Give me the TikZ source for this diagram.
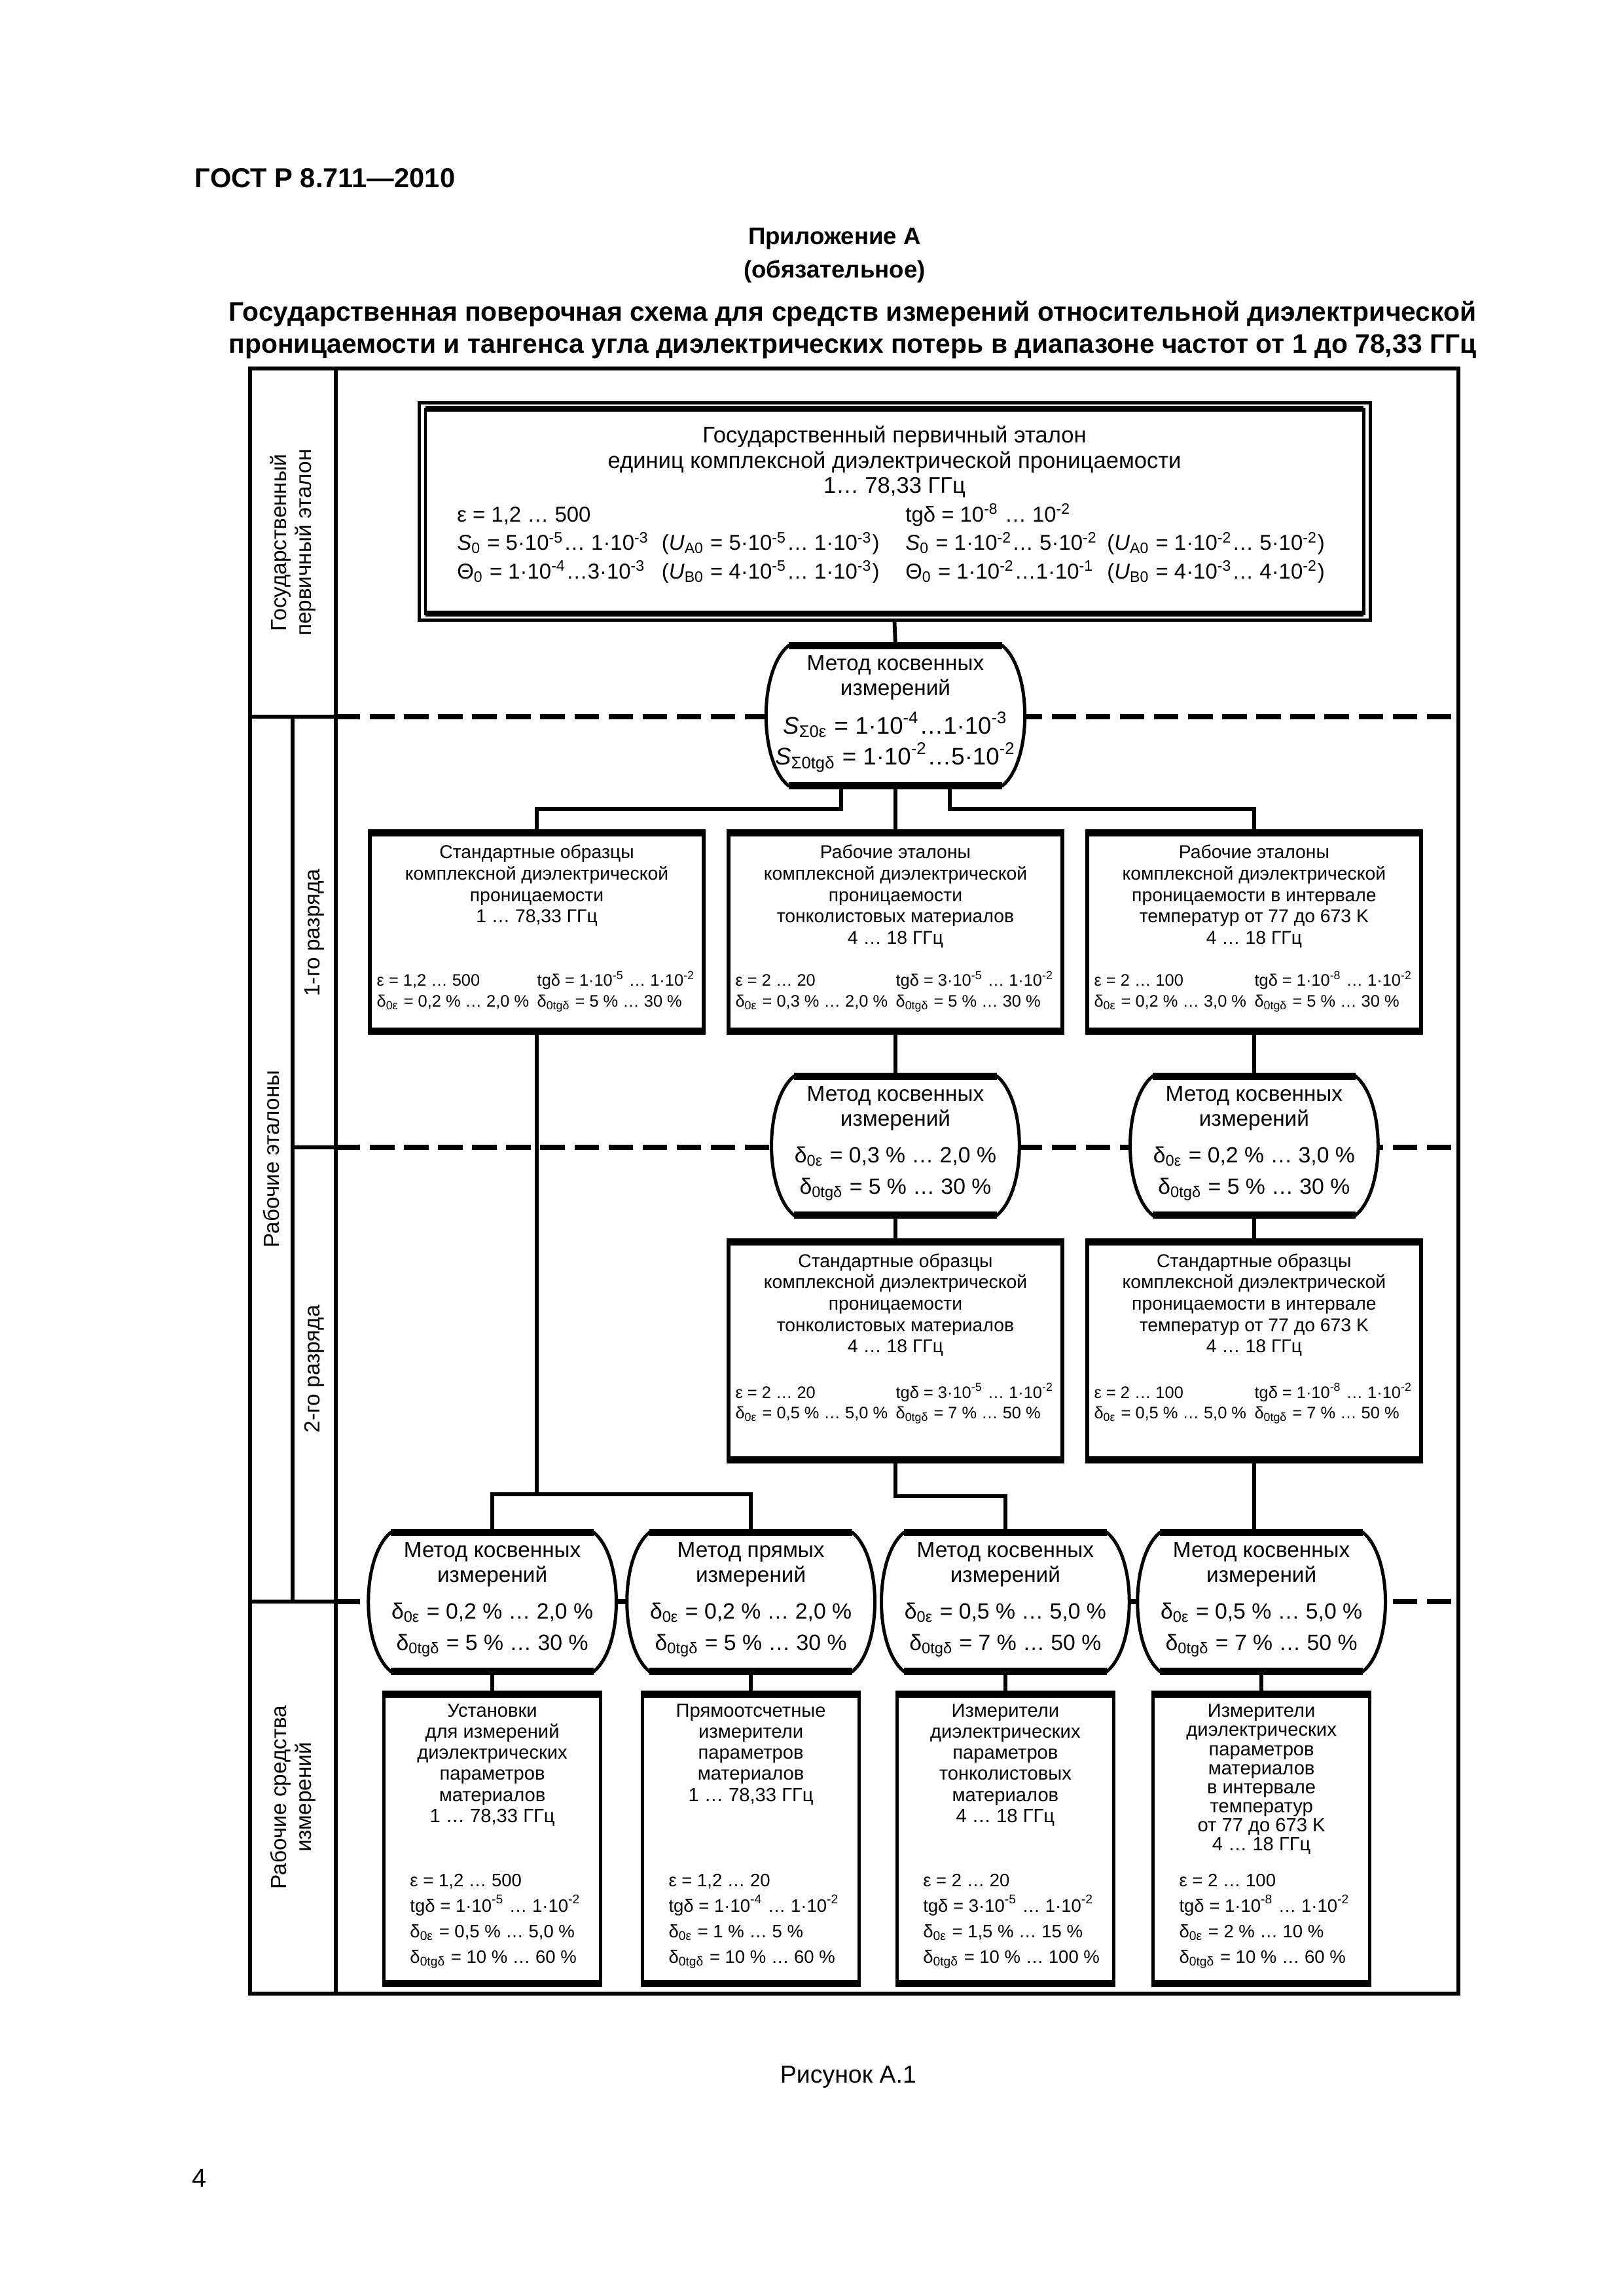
\documentclass[tikz,border=0pt]{standalone}
\usepackage{fontspec}
\setmainfont{Liberation Sans}
\usetikzlibrary{calc}

\newcommand{\spx}[1]{\textsuperscript{#1}}
\newcommand{\sbx}[1]{\textsubscript{#1}}
% outline of a method node
\newcommand{\barrel}[1]{%
  \filldraw[fill=white,line width=1.2pt] (#1.north west)
    .. controls ($(#1.north west)+(-11,9)$) and ($(#1.south west)+(-11,-9)$) .. (#1.south west)
    -- (#1.south east)
    .. controls ($(#1.south east)+(11,-9)$) and ($(#1.north east)+(11,9)$) .. (#1.north east)
    -- cycle;
  \draw[line width=2.6pt] (#1.north west) -- (#1.north east) (#1.south west) -- (#1.south east);}
% heavy top and bottom of a box
\newcommand{\bars}[1]{%
  \draw[line width=2.6pt] (#1.north west) -- (#1.north east) (#1.south west) -- (#1.south east);}

\begin{document}
\begin{tikzpicture}[x=1pt,y=-1pt,
  frm/.style={line width=1.5pt},
  con/.style={line width=1.4pt},
  sepl/.style={line width=2pt,dash pattern=on 9pt off 3.5pt},
  stdbox/.style={draw,line width=1.3pt,inner sep=0pt,minimum width=122.4pt,minimum height=71.5pt},
  sibox/.style={draw,line width=1.3pt,inner sep=0pt,minimum width=79.4pt,minimum height=104.9pt},
  meth/.style={inner sep=0pt,minimum width=74pt,minimum height=50.6pt},
  btxt/.style={font=\fontsize{6.8}{7.85}\selectfont,align=center,inner sep=0pt},
  bpar/.style={font=\fontsize{6.1}{7.5}\selectfont,inner sep=0pt},
  stxt/.style={font=\fontsize{7}{7.7}\selectfont,align=center,inner sep=0pt},
  spar/.style={font=\fontsize{6.6}{9.4}\selectfont,align=left,inner sep=0pt},
  mtxt/.style={font=\fontsize{8}{9}\selectfont,align=center,inner sep=0pt},
  mval/.style={font=\fontsize{8.1}{11.4}\selectfont,align=center,inner sep=0pt},
  lbl/.style={font=\fontsize{8}{9.2}\selectfont,align=center,rotate=90,inner sep=0pt},
  hdr/.style={font=\bfseries\fontsize{9.8}{11.7}\selectfont,align=center,inner sep=0pt}]

\useasboundingbox (0,0) rectangle (595.3,841.9);
\fill[white] (0,0) rectangle (595.3,841.9);

% page heading
\node[hdr,anchor=west,font=\bfseries\fontsize{10}{12}\selectfont] (gost) at (71.3,65.3) {ГОСТ Р 8.711—2010};
\node[hdr,font=\bfseries\fontsize{8.8}{12.2}\selectfont] (app) at (306,93.7) {Приложение А\\(обязательное)};
\node[hdr] (ttl) at (312.6,120.9) {Государственная поверочная схема для средств измерений относительной диэлектрической\\проницаемости и тангенса угла диэлектрических потерь в диапазоне частот от 1 до 78,33 ГГц};

% frame
\draw[frm] (91.7,135.1) rectangle (534.7,731.0);
\draw[frm] (123.1,135.1) -- (123.1,731.0);
\draw[frm] (107.3,262.8) -- (107.3,587.3);
\draw[frm] (91.7,262.8) -- (123.1,262.8);
\draw[frm] (107.3,420.7) -- (123.1,420.7);
\draw[frm] (91.7,587.3) -- (123.1,587.3);
\foreach \y in {262.8,420.7,587.3}
  \draw[sepl] (123.1,\y) -- (534.7,\y);

\node[lbl] (lgpe) at (107.4,199) {Государственный\\первичный эталон};
\node[lbl] (lre) at (99.5,425) {Рабочие эталоны};
\node[lbl] (lr1) at (115.2,342) {1-го разряда};
\node[lbl] (lr2) at (115.2,502) {2-го разряда};
\node[lbl] (lrsi) at (107.4,659) {Рабочие средства\\измерений};

% primary standard
\node[draw,line width=1.2pt,inner sep=0pt,minimum width=348.7pt,minimum height=79.7pt] (gpe) at (327.95,187.45) {};
\draw[line width=1pt] ($(gpe.north west)+(2.9,2.9)$) rectangle ($(gpe.south east)+(-2.9,-2.9)$);
\draw[line width=2pt] ($(gpe.north west)+(2.9,2.9)$) -- ($(gpe.north east)+(-2.9,2.9)$)
  ($(gpe.south west)+(2.9,-2.9)$) -- ($(gpe.south east)+(-2.9,-2.9)$);

% boxes
\node[stdbox] (g1a) at (196.8,341.75) {}; \bars{g1a}
\node[stdbox] (g1b) at (328.3,341.75) {}; \bars{g1b}
\node[stdbox] (g1c) at (459.8,341.75) {}; \bars{g1c}
\node[stdbox,minimum height=78.7pt] (g2b) at (328.3,495.35) {}; \bars{g2b}
\node[stdbox,minimum height=78.7pt] (g2c) at (459.8,495.35) {}; \bars{g2c}
\node[sibox] (u1) at (180.5,674.25) {}; \bars{u1}
\node[sibox] (u2) at (275.3,674.25) {}; \bars{u2}
\node[sibox] (u3) at (368.6,674.25) {}; \bars{u3}
\node[sibox] (u4) at (462.5,674.25) {}; \bars{u4}

% methods
\node[meth,minimum width=78pt,minimum height=51pt] (m1) at (328.3,262.45) {}; \barrel{m1}
\node[meth] (m2) at (328.3,420.1) {}; \barrel{m2}
\node[meth] (m3) at (459.8,420.1) {}; \barrel{m3}
\node[meth] (m4) at (180.5,587.4) {}; \barrel{m4}
\node[meth] (m5) at (275.3,587.4) {}; \barrel{m5}
\node[meth] (m6) at (368.6,587.4) {}; \barrel{m6}
\node[meth] (m7) at (462.5,587.4) {}; \barrel{m7}

% connectors
\draw[con] (gpe.south) -- (m1.north);
\draw[con] (m1.south) -- (g1b.north);
\draw[con] ($(m1.south)+(-20,0)$) -- ++(0,8.4) -| (g1a.north);
\draw[con] ($(m1.south)+(20,0)$) -- ++(0,8.4) -| (g1c.north);
\draw[con] (g1b.south) -- (m2.north);
\draw[con] (g1c.south) -- (m3.north);
\draw[con] (m2.south) -- (g2b.north);
\draw[con] (m3.south) -- (g2c.north);
\coordinate (ja) at (196.8,547.9);
\draw[con] (g1a.south) -- (ja);
\draw[con] (m4.north) |- (ja) -| (m5.north);
\draw[con] (g2b.south) -- ++(0,13.2) -| (m6.north);
\draw[con] (g2c.south) -- (g2c.south |- m7.north);
\draw[con] (m4.south) -- (u1.north);
\draw[con] (m5.south) -- (u2.north);
\draw[con] (m6.south) -- (u3.north);
\draw[con] (m7.south) -- (u4.north);

% texts
\node[font=\fontsize{8.3}{9.2}\selectfont,align=center,inner sep=0pt,anchor=north] (gpet) at ($(gpe.north)+(0,9.1)$)
  {Государственный первичный эталон\\единиц комплексной диэлектрической проницаемости\\1… 78,33 ГГц};
\node[font=\fontsize{7.9}{10.5}\selectfont,align=left,inner sep=0pt,anchor=north west] (gpep) at ($(gpe.north west)+(14.4,37.4)$)
  {\makebox[75pt][l]{ε = 1,2 … 500}\makebox[89.4pt][l]{}tgδ = 10\spx{-8} … 10\spx{-2}\\
   \makebox[75pt][l]{\textit{S}\sbx{0} = 5·10\spx{-5}… 1·10\spx{-3}}\makebox[89.4pt][l]{(\textit{U}\sbx{A0} = 5·10\spx{-5}… 1·10\spx{-3})}\makebox[73.9pt][l]{\textit{S}\sbx{0} = 1·10\spx{-2}… 5·10\spx{-2}}(\textit{U}\sbx{A0} = 1·10\spx{-2}… 5·10\spx{-2})\\
   \makebox[75pt][l]{Θ\sbx{0} = 1·10\spx{-4}…3·10\spx{-3}}\makebox[89.4pt][l]{(\textit{U}\sbx{B0} = 4·10\spx{-5}… 1·10\spx{-3})}\makebox[73.9pt][l]{Θ\sbx{0} = 1·10\spx{-2}…1·10\spx{-1}}(\textit{U}\sbx{B0} = 4·10\spx{-3}… 4·10\spx{-2})};

\node[mtxt,anchor=north] (m1t) at ($(m1.north)+(0,3.5)$) {Метод косвенных\\измерений};
\node[mval,font=\fontsize{8.8}{11.4}\selectfont] (m1v) at ($(m1.north)+(0,35.3)$) {\textit{S}\sbx{Σ0ε} = 1·10\spx{-4}…1·10\spx{-3}\\\textit{S}\sbx{Σ0tgδ} = 1·10\spx{-2}…5·10\spx{-2}};
\node[mtxt,anchor=north] (m2t) at ($(m2.north)+(0,3.5)$) {Метод косвенных\\измерений};
\node[mval] (m2v) at ($(m2.north)+(0,35.8)$) {δ\sbx{0ε} = 0,3 \% … 2,0 \%\\δ\sbx{0tgδ} = 5 \% … 30 \%};
\node[mtxt,anchor=north] (m3t) at ($(m3.north)+(0,3.5)$) {Метод косвенных\\измерений};
\node[mval] (m3v) at ($(m3.north)+(0,35.8)$) {δ\sbx{0ε} = 0,2 \% … 3,0 \%\\δ\sbx{0tgδ} = 5 \% … 30 \%};
\node[mtxt,anchor=north] (m4t) at ($(m4.north)+(0,3.5)$) {Метод косвенных\\измерений};
\node[mval] (m4v) at ($(m4.north)+(0,35.8)$) {δ\sbx{0ε} = 0,2 \% … 2,0 \%\\δ\sbx{0tgδ} = 5 \% … 30 \%};
\node[mtxt,anchor=north] (m5t) at ($(m5.north)+(0,3.5)$) {Метод прямых\\измерений};
\node[mval] (m5v) at ($(m5.north)+(0,35.8)$) {δ\sbx{0ε} = 0,2 \% … 2,0 \%\\δ\sbx{0tgδ} = 5 \% … 30 \%};
\node[mtxt,anchor=north] (m6t) at ($(m6.north)+(0,3.5)$) {Метод косвенных\\измерений};
\node[mval] (m6v) at ($(m6.north)+(0,35.8)$) {δ\sbx{0ε} = 0,5 \% … 5,0 \%\\δ\sbx{0tgδ} = 7 \% … 50 \%};
\node[mtxt,anchor=north] (m7t) at ($(m7.north)+(0,3.5)$) {Метод косвенных\\измерений};
\node[mval] (m7v) at ($(m7.north)+(0,35.8)$) {δ\sbx{0ε} = 0,5 \% … 5,0 \%\\δ\sbx{0tgδ} = 7 \% … 50 \%};

\node[btxt,anchor=north] (g1at) at ($(g1a.north)+(0,4.3)$) {Стандартные образцы\\комплексной диэлектрической\\проницаемости\\1 … 78,33 ГГц};
\node[bpar,anchor=north west] (g1ap) at ($(g1a.north west)+(3,50.6)$) {\begin{tabular}{@{}l@{\hspace{3pt}}l@{}}ε = 1,2 … 500 & tgδ = 1·10\spx{-5} … 1·10\spx{-2}\\δ\sbx{0ε} = 0,2 \% … 2,0 \% & δ\sbx{0tgδ} = 5 \% … 30 \%\end{tabular}};
\node[btxt,anchor=north] (g1bt) at ($(g1b.north)+(0,4.3)$) {Рабочие эталоны\\комплексной диэлектрической\\проницаемости\\тонколистовых материалов\\4 … 18 ГГц};
\node[bpar,anchor=north west] (g1bp) at ($(g1b.north west)+(3,50.6)$) {\begin{tabular}{@{}l@{\hspace{3pt}}l@{}}ε = 2 … 20 & tgδ = 3·10\spx{-5} … 1·10\spx{-2}\\δ\sbx{0ε} = 0,3 \% … 2,0 \% & δ\sbx{0tgδ} = 5 \% … 30 \%\end{tabular}};
\node[btxt,anchor=north] (g1ct) at ($(g1c.north)+(0,4.3)$) {Рабочие эталоны\\комплексной диэлектрической\\проницаемости в интервале\\температур от 77 до 673 K\\4 … 18 ГГц};
\node[bpar,anchor=north west] (g1cp) at ($(g1c.north west)+(3,50.6)$) {\begin{tabular}{@{}l@{\hspace{3pt}}l@{}}ε = 2 … 100 & tgδ = 1·10\spx{-8} … 1·10\spx{-2}\\δ\sbx{0ε} = 0,2 \% … 3,0 \% & δ\sbx{0tgδ} = 5 \% … 30 \%\end{tabular}};
\node[btxt,anchor=north] (g2bt) at ($(g2b.north)+(0,4.1)$) {Стандартные образцы\\комплексной диэлектрической\\проницаемости\\тонколистовых материалов\\4 … 18 ГГц};
\node[bpar,anchor=north west] (g2bp) at ($(g2b.north west)+(3,51.6)$) {\begin{tabular}{@{}l@{\hspace{3pt}}l@{}}ε = 2 … 20 & tgδ = 3·10\spx{-5} … 1·10\spx{-2}\\δ\sbx{0ε} = 0,5 \% … 5,0 \% & δ\sbx{0tgδ} = 7 \% … 50 \%\end{tabular}};
\node[btxt,anchor=north] (g2ct) at ($(g2c.north)+(0,4.1)$) {Стандартные образцы\\комплексной диэлектрической\\проницаемости в интервале\\температур от 77 до 673 K\\4 … 18 ГГц};
\node[bpar,anchor=north west] (g2cp) at ($(g2c.north west)+(3,51.6)$) {\begin{tabular}{@{}l@{\hspace{3pt}}l@{}}ε = 2 … 100 & tgδ = 1·10\spx{-8} … 1·10\spx{-2}\\δ\sbx{0ε} = 0,5 \% … 5,0 \% & δ\sbx{0tgδ} = 7 \% … 50 \%\end{tabular}};

\node[stxt,anchor=north] (u1t) at ($(u1.north)+(0,3.5)$) {Установки\\для измерений\\диэлектрических\\параметров\\материалов\\1 … 78,33 ГГц};
\node[spar,anchor=north west] (u1p) at ($(u1.north west)+(10,65.7)$) {ε = 1,2 … 500\\tgδ = 1·10\spx{-5} … 1·10\spx{-2}\\δ\sbx{0ε} = 0,5 \% … 5,0 \%\\δ\sbx{0tgδ} = 10 \% … 60 \%};
\node[stxt,anchor=north] (u2t) at ($(u2.north)+(0,3.5)$) {Прямоотсчетные\\измерители\\параметров\\материалов\\1 … 78,33 ГГц};
\node[spar,anchor=north west] (u2p) at ($(u2.north west)+(10,65.7)$) {ε = 1,2 … 20\\tgδ = 1·10\spx{-4} … 1·10\spx{-2}\\δ\sbx{0ε} = 1 \% … 5 \%\\δ\sbx{0tgδ} = 10 \% … 60 \%};
\node[stxt,anchor=north] (u3t) at ($(u3.north)+(0,3.5)$) {Измерители\\диэлектрических\\параметров\\тонколистовых\\материалов\\4 … 18 ГГц};
\node[spar,anchor=north west] (u3p) at ($(u3.north west)+(10,65.7)$) {ε = 2 … 20\\tgδ = 3·10\spx{-5} … 1·10\spx{-2}\\δ\sbx{0ε} = 1,5 \% … 15 \%\\δ\sbx{0tgδ} = 10 \% … 100 \%};
\node[stxt,font=\fontsize{7}{7}\selectfont,anchor=north] (u4t) at ($(u4.north)+(0,3.5)$) {Измерители\\диэлектрических\\параметров\\материалов\\в интервале\\температур\\от 77 до 673 K\\4 … 18 ГГц};
\node[spar,anchor=north west] (u4p) at ($(u4.north west)+(10,65.7)$) {ε = 2 … 100\\tgδ = 1·10\spx{-8} … 1·10\spx{-2}\\δ\sbx{0ε} = 2 \% … 10 \%\\δ\sbx{0tgδ} = 10 \% … 60 \%};

\node[font=\fontsize{9}{11}\selectfont] (fig) at (311,761.5) {Рисунок А.1};
\node[font=\fontsize{9.5}{11}\selectfont] (pg) at (73,798.7) {4};
\end{tikzpicture}
\end{document}
